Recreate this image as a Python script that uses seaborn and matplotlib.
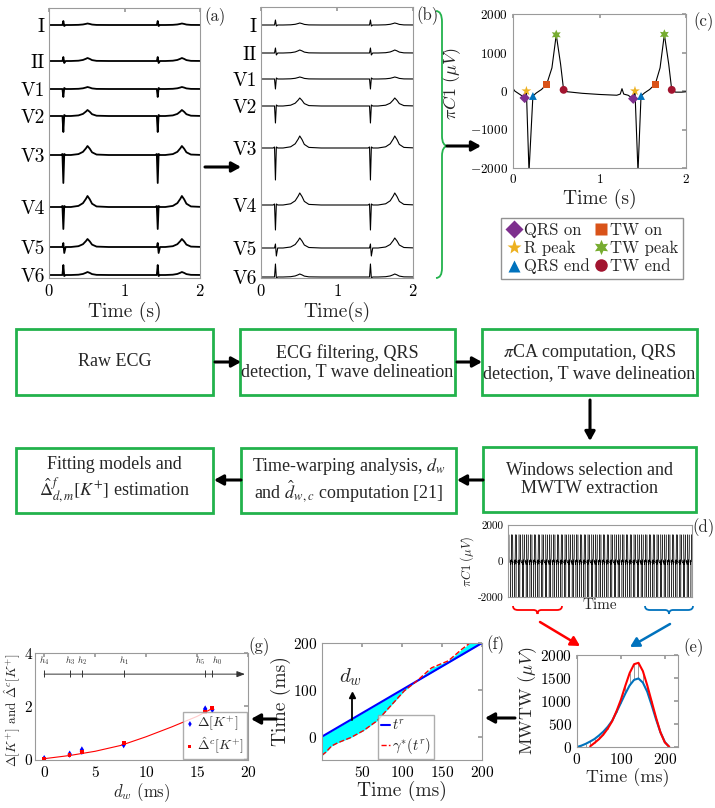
import numpy as np
import pandas as pd
import matplotlib
matplotlib.use("Agg")
import matplotlib.pyplot as plt
import seaborn as sns
from matplotlib.path import Path
from matplotlib.patches import PathPatch, Rectangle
from matplotlib.lines import Line2D

## ---------------- data ----------------
# panels (a)/(b): 12 leads, two beats with R peaks at these times (s)
lead_names = ["I", "II", "V1", "V2", "V3", "V4", "V5", "V6"]
r_peaks = [0.19, 1.44]
beat_rel = [-0.19, -0.03, -0.012, 0, 0.012, 0.03, 0.1, 0.2, 0.26, 0.3, 0.32, 0.35, 0.38, 0.44, 0.6, 1.06]
t_shape = [0.1, 0.35, 0.75, 1.0, 0.7, 0.3, 0.05]

# (a) raw ECG: baseline offset and deflections (pixel-like units)
a_offsets = [253, 217, 189, 162, 123, 71, 31, 3]
a_pre = [0, 0, 0, 0, 1, 1, 0, 0]
a_main = [4, 4, -8, -16, -28, -22, 4, 10]
a_post = [-1, -2, 1, 1, 1, 1, -6, -1]
a_twave = [1.5, 3, 2, 6, 9, 11, 8, 3]

# (b) filtered ECG
b_offsets = [253, 225, 199, 172, 130, 73, 30, 1]
b_pre = [0, 0, 0, 0, 1, 1, 0, 0]
b_main = [5, 5, -10, -17, -32, -25, 4, 13]
b_post = [-1, -2, 1, 1, 1, 1, -8, -1]
b_twave = [2, 3, 2, 8, 12, 12, 10, 3]

# (c) piCA first component
c_time = [0.0, 0.02, 0.06, 0.1, 0.135, 0.155, 0.185, 0.23, 0.27, 0.33, 0.39, 0.45, 0.5, 0.55,
          0.585, 0.63, 0.8, 1.0, 1.2, 1.24, 1.26, 1.28, 1.33, 1.39, 1.41, 1.445, 1.48, 1.52,
          1.58, 1.645, 1.7, 1.75, 1.8, 1.835, 1.88, 1.95, 2.0]
c_val = [70, 0, -60, -120, -180, 0, -2100, -130, -50, 40, 180, 600, 1460, 700,
         30, -20, -60, -90, -110, -80, 60, -80, -110, -200, 0, -2100, -130, -50,
         40, 180, 600, 1470, 700, 30, -30, -30, -20]
qrs_on = ([0.135, 1.39], [-180, -200])
r_peak = ([0.155, 1.41], [0, 0])
qrs_end = ([0.23, 1.48], [-130, -130])
tw_on = ([0.39, 1.645], [180, 180])
tw_peak = ([0.5, 1.75], [1460, 1470])
tw_end = ([0.585, 1.835], [30, 30])

# (d) whole recording = the (c) segment repeated
d_repeats = 48

# (e) MWTW of the two windows
e_time = [0, 10, 20, 30, 40, 50, 60, 70, 80, 90, 100, 110, 120, 130, 140, 150, 160, 170, 180, 190, 200, 210]
e_blue = [0, 30, 70, 120, 175, 250, 335, 440, 570, 760, 960, 1160, 1340, 1460, 1490, 1400, 1200, 910, 600, 320, 110, 0]
e_red = [np.nan, np.nan, np.nan, 15, 90, 170, 270, 400, 560, 780, 1030, 1330, 1610, 1800, 1830, 1650, 1340, 990, 640, 320, 100, 5]

# (f) warping function
f_tr = [0, 5, 12, 20, 36, 52, 69, 86, 103, 118, 137, 158, 175, 185, 200]
f_gamma = [-40, -33, -20, -13, -2, 13, 34, 66, 98, 118, 147, 162, 187, 200, 220]
dw_x = [37, 37]
dw_y = [35, 88]

# (g) potassium vs d_w
g_dw = [0, 2.5, 3.7, 3.7, 7.8, 15.8, 16.5]
g_delta = [0, 0.17, 0.28, 0.33, 0.53, 1.88, 1.86]
g_dw_c = [0, 2.5, 3.7, 7.8, 15.8, 16.5]
g_delta_c = [0, 0.15, 0.25, 0.6, 1.76, 1.93]
g_fit_x = [0, 2.5, 5, 7.5, 10, 12.5, 15, 16.5]
g_fit_y = [0, 0.12, 0.28, 0.5, 0.83, 1.2, 1.6, 1.9]
h_pos = [0, 2.5, 3.7, 7.8, 15.8, 16.5]
h_names = ["h_4", "h_3", "h_2", "h_1", "h_5", "h_0"]

## ---------------- style ----------------
sns.set_theme(style="white")
plt.rcParams.update({
    "font.family": ["cmr10", "DejaVu Serif"],
    "mathtext.fontset": "cm",
    "axes.formatter.use_mathtext": True,
    "axes.edgecolor": "#9a9a9a",
    "axes.linewidth": 0.8,
    "xtick.direction": "in",
    "ytick.direction": "in",
    "xtick.color": "#9a9a9a",
    "ytick.color": "#9a9a9a",
    "xtick.labelcolor": "black",
    "ytick.labelcolor": "black",
    "xtick.major.size": 3,
    "ytick.major.size": 3,
})
GREEN = "#22b24c"
W, H = 715, 808
fig = plt.figure(figsize=(W / 100, H / 100), dpi=100)


def px_axes(l, t, r, b):
    return fig.add_axes([l / W, 1 - b / H, (r - l) / W, (b - t) / H])


def ecg_panel(ax, offsets, pre, main, post, tw, lw):
    for i in range(len(lead_names)):
        beat = [0, 0, pre[i], main[i], post[i], 0, 0] + [f * tw[i] for f in t_shape] + [0, 0]
        t = np.concatenate([r + np.array(beat_rel) for r in r_peaks])
        y = offsets[i] + np.tile(beat, len(r_peaks))
        sns.lineplot(x=t, y=y, ax=ax, color="black", lw=lw, sort=False, estimator=None)
    ax.set_xlim(0, 2)
    ax.set_xticks([0, 1, 2])
    ax.set_yticks(offsets, lead_names, fontsize=14)
    ax.tick_params(axis="y", length=0, pad=3)
    ax.tick_params(axis="x", labelsize=12, top=True)


## (a)
ax_a = px_axes(49, 8, 200, 278)
ecg_panel(ax_a, a_offsets, a_pre, a_main, a_post, a_twave, 1.3)
ax_a.set_ylim(0, 270)
ax_a.set_xlabel("Time (s)", fontsize=14, labelpad=2)
ax_a.text(1.03, 0.95, "(a)", transform=ax_a.transAxes, fontsize=12)

## (b)
ax_b = px_axes(261, 7, 413, 278)
ecg_panel(ax_b, b_offsets, b_pre, b_main, b_post, b_twave, 0.8)
ax_b.set_ylim(0, 271)
ax_b.set_xlabel("Time(s)", fontsize=14, labelpad=2)
ax_b.text(1.02, 0.95, "(b)", transform=ax_b.transAxes, fontsize=12)

## (c)
ax_c = px_axes(513, 14, 686, 168)
sns.lineplot(x=c_time, y=c_val, ax=ax_c, color="black", lw=0.8, sort=False, estimator=None)
mk = [("QRS on", qrs_on, "D", "#7E2F8E", 28),
      ("R peak", r_peak, "*", "#EDB120", 55),
      ("QRS end", qrs_end, "^", "#0072BD", 32),
      ("TW on", tw_on, "s", "#D95319", 26),
      ("TW peak", tw_peak, (6, 1, 0), "#77AC30", 55),
      ("TW end", tw_end, "o", "#A2142F", 32)]
handles = []
for name, (xs, ys), m, col, s in mk:
    sns.scatterplot(x=xs, y=ys, ax=ax_c, marker=m, color=col, s=s, edgecolor="none", zorder=3)
    handles.append(Line2D([], [], ls="none", marker=m, color=col, markersize=11 if m in ("*", (6, 1, 0)) else 9,
                          markeredgecolor="none", label=name))
ax_c.set_xlim(0, 2)
ax_c.set_ylim(-2000, 2000)
ax_c.set_xticks([0, 1, 2])
ax_c.set_yticks([-2000, -1000, 0, 1000, 2000])
ax_c.tick_params(labelsize=9.5, top=True, right=True)
ax_c.set_xlabel("Time (s)", fontsize=14, labelpad=2)
ax_c.set_ylabel(r"$\pi C1\ (\mu V)$", fontsize=13)
ax_c.yaxis.set_label_coords(-0.29, 0.55)
ax_c.text(1.04, 0.92, "(c)", transform=ax_c.transAxes, fontsize=12)
fig.legend(handles=handles, ncol=2, loc="upper left", bbox_to_anchor=(501 / W, 1 - 218 / H),
           fontsize=12, frameon=True, fancybox=False, edgecolor="#777777", handletextpad=0.05,
           columnspacing=0.2, borderpad=0.3, labelspacing=0.15, handlelength=1.0, borderaxespad=0)

## (d)
ax_d = px_axes(508, 525, 692, 597)
d_t = np.concatenate([np.array(c_time) + 2 * k for k in range(d_repeats)])
d_v = np.tile(c_val, d_repeats)
sns.lineplot(x=d_t, y=d_v, ax=ax_d, color="black", lw=0.3, sort=False, estimator=None)
ax_d.set_xlim(0, 2 * d_repeats)
ax_d.set_ylim(-2000, 2000)
ax_d.set_xticks([])
ax_d.set_yticks([-2000, 0, 2000], ["-2000", "0", "2000"])
ax_d.tick_params(labelsize=8)
ax_d.set_xlabel("Time", fontsize=11, labelpad=1)
ax_d.set_ylabel(r"$\pi C1\ (\mu V)$", fontsize=9, labelpad=1)
ax_d.text(1.0, 0.9, "(d)", transform=ax_d.transAxes, fontsize=12)

## (e)
ax_e = px_axes(577, 655, 678, 747)
e_red_base = np.nan_to_num(np.array(e_red, dtype=float))
ax_e.vlines(e_time, e_red_base, e_blue, color="#8a8a8a", lw=0.6)
sns.lineplot(x=e_time, y=e_blue, ax=ax_e, color="#0072BD", lw=1.5, sort=False, estimator=None)
sns.lineplot(x=e_time, y=e_red, ax=ax_e, color="red", lw=1.5, sort=False, estimator=None)
ax_e.set_xlim(0, 230)
ax_e.set_ylim(0, 2000)
ax_e.set_xticks([0, 100, 200])
ax_e.set_yticks([0, 500, 1000, 1500, 2000])
ax_e.tick_params(labelsize=11, top=True, right=True)
ax_e.set_xlabel("Time (ms)", fontsize=13, labelpad=1)
ax_e.set_ylabel(r"MWTW $(\mu V)$", fontsize=13, labelpad=1)
ax_e.text(1.05, 1.03, "(e)", transform=ax_e.transAxes, fontsize=12)

## (f)
ax_f = px_axes(322, 643, 482, 760)
ax_f.fill_between(f_tr, f_tr, f_gamma, color="cyan", lw=0)
sns.lineplot(x=f_tr, y=f_tr, ax=ax_f, color="blue", lw=1.5, sort=False, estimator=None, label=r"$t^r$")
sns.lineplot(x=f_tr, y=f_gamma, ax=ax_f, color="red", lw=1.0, sort=False, estimator=None,
             label=r"$\gamma^{*}(t^r)$", dashes=(3, 1), linestyle="--")
# d_w arrow: shaft plus triangular head
ax_f.plot(dw_x, dw_y, color="black", lw=1.3, zorder=6)
ax_f.plot(dw_x[-1:], dw_y[-1:], marker="^", color="black", markersize=5, zorder=6)
ax_f.text(35, 103, r"$d_w$", fontsize=15, ha="center", va="bottom")
ax_f.set_xlim(0, 200)
ax_f.set_ylim(-50, 200)
ax_f.set_xticks([50, 100, 150, 200])
ax_f.set_yticks([0, 100, 200])
ax_f.tick_params(labelsize=11, top=True, right=True)
ax_f.set_xlabel("Time (ms)", fontsize=14, labelpad=1)
ax_f.set_ylabel("Time (ms)", fontsize=14, labelpad=1)
ax_f.legend(loc="lower left", bbox_to_anchor=(0.34, 0.0), fontsize=10.5, fancybox=False,
            edgecolor="#999999", handlelength=0.6, handletextpad=0.2, borderpad=0.2,
            labelspacing=0.2, borderaxespad=0.1)
ax_f.text(1.03, 0.95, "(f)", transform=ax_f.transAxes, fontsize=12)

## (g)
ax_g = px_axes(35, 653, 248, 760)
sns.lineplot(x=g_fit_x, y=g_fit_y, ax=ax_g, color="red", lw=0.8, sort=False, estimator=None)
sns.scatterplot(x=g_dw, y=g_delta, ax=ax_g, marker="d", color="blue", s=14, edgecolor="none",
                label=r"$\Delta[K^{+}]$", zorder=3)
sns.scatterplot(x=g_dw_c, y=g_delta_c, ax=ax_g, marker="s", color="red", s=7, edgecolor="none",
                label=r"$\hat{\Delta}^{c}[K^{+}]$", zorder=3)
ax_g.annotate("", xy=(19.7, 3.2), xytext=(0, 3.2),
              arrowprops=dict(arrowstyle="-|>,head_length=0.4,head_width=0.15", color="#333333", lw=0.7,
                              shrinkA=0, shrinkB=0))
ax_g.vlines(h_pos, 3.08, 3.36, color="#333333", lw=0.7)
h_ha = ["center", "center", "center", "center", "right", "left"]
for hx, hn, ha in zip(h_pos, h_names, h_ha):
    ax_g.text(hx, 3.48, "$" + hn + "$", fontsize=6.5, ha=ha, va="bottom")
ax_g.set_xlim(-0.9, 20)
ax_g.set_ylim(-0.05, 4)
ax_g.set_xticks([0, 5, 10, 15, 20])
ax_g.set_yticks([0, 2, 4])
ax_g.tick_params(labelsize=11, top=True, right=True)
ax_g.tick_params(axis="y", pad=1.5)
ax_g.set_xlabel(r"$d_w$ (ms)", fontsize=12, labelpad=1)
ax_g.set_ylabel(r"$\Delta[K^{+}]$ and $\hat{\Delta}^{c}[K^{+}]$", fontsize=9.5, labelpad=1)
ax_g.yaxis.set_label_coords(-0.056, 0.47)
ax_g.legend(loc="lower right", fontsize=10, fancybox=False, edgecolor="#999999", handlelength=0.6,
            handletextpad=0.2, borderpad=0.2, labelspacing=0.15, borderaxespad=0.1, markerscale=0.8)
ax_g.text(1.0, 1.02, "(g)", transform=ax_g.transAxes, fontsize=12)

## ---------------- flow chart overlay (pixel coordinates) ----------------
ov = fig.add_axes([0, 0, 1, 1])
ov.set_xlim(0, W)
ov.set_ylim(H, 0)
ov.axis("off")

boxes = [(16, 329, 213, 395, "Raw ECG"),
         (240, 329, 455, 395, "ECG filtering, QRS\ndetection, T wave delineation"),
         (482, 329, 697, 395, "$\\pi$CA computation, QRS\ndetection, T wave delineation"),
         (483, 447, 696, 512, "Windows selection and\nMWTW extraction"),
         (241, 448, 456, 513, "Time-warping analysis, $d_w$\nand $\\hat{d}_{w,c}$ computation [21]"),
         (16, 448, 213, 513, "Fitting models and\n$\\hat{\\Delta}^{f}_{d,m}[K^{+}]$ estimation")]
for l, t, r, b, txt in boxes:
    ov.add_patch(Rectangle((l, t), r - l, b - t, fill=False, edgecolor=GREEN, lw=2))
    ov.text((l + r) / 2, (t + b) / 2, txt, ha="center", va="center", fontsize=13,
            family="Liberation Serif", math_fontfamily="stix", linespacing=1.1)

arrows = [((205, 167), (241, 167), "black"), ((447, 146), (481, 146), "black"),
          ((215, 362), (241, 362), "black"), ((457, 362), (482, 362), "black"),
          ((590, 400), (590, 441), "black"), ((483, 480), (457, 480), "black"),
          ((241, 480), (214, 480), "black"), ((276, 719), (251, 719), "black"),
          ((515, 718), (485, 718), "black"), ((540, 622), (580, 646), "red"),
          ((670, 624), (630, 647), "#0072BD")]
for (x1, y1), (x2, y2), col in arrows:
    ov.annotate("", xy=(x2, y2), xytext=(x1, y1),
                arrowprops=dict(arrowstyle="-|>,head_length=0.45,head_width=0.25", color=col,
                                lw=2.2 if col == "black" else 1.8, shrinkA=0, shrinkB=0))

# green curly brace next to (b)
C3, LT, MV = Path.CURVE3, Path.LINETO, Path.MOVETO
brace = Path([(436, 11), (442, 11), (442, 22), (442, 136), (442, 146), (448, 146),
              (442, 146), (442, 156), (442, 268), (442, 278), (436, 278)],
             [MV, C3, C3, LT, C3, C3, C3, C3, LT, C3, C3])
ov.add_patch(PathPatch(brace, fill=False, edgecolor=GREEN, lw=1.3))

# window braces under (d)
for l, r, col in [(513, 562, "red"), (645, 693, "#0072BD")]:
    m = (l + r) / 2
    p = Path([(l, 606), (l, 610), (l + 5, 610), (m - 4, 610), (m, 610), (m, 614),
              (m, 610), (m + 4, 610), (r - 5, 610), (r, 610), (r, 606)],
             [MV, C3, C3, LT, C3, C3, C3, C3, LT, C3, C3])
    ov.add_patch(PathPatch(p, fill=False, edgecolor=col, lw=1.3))

fig.savefig("out.png", dpi=100)
